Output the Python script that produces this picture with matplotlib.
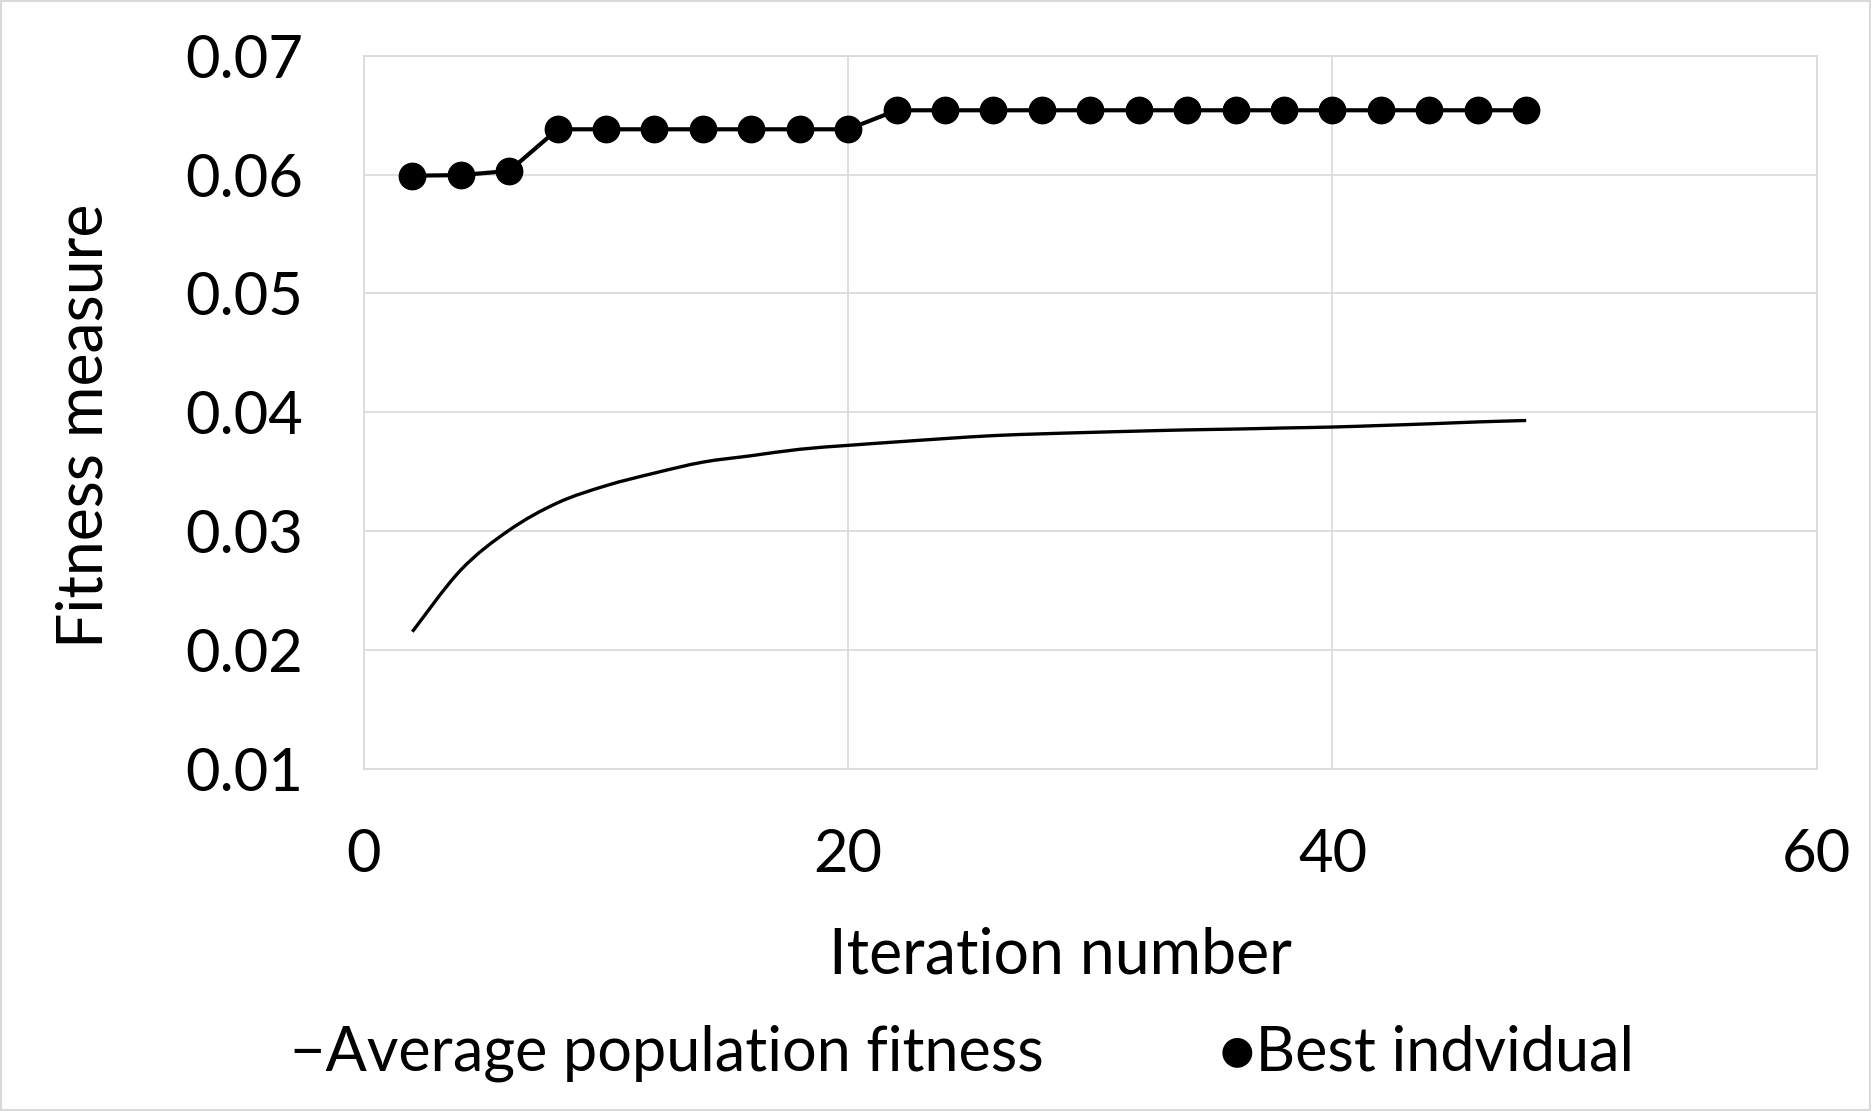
# Import Libraries
import numpy as np
import matplotlib.pyplot as plt
from matplotlib.patches import Rectangle, PathPatch
from matplotlib.path import Path

plt.rcParams['font.family'] = ['Lato', 'DejaVu Sans']

# Data
iterations = list(range(2, 50, 2))
avg_fitness = [0.02156, 0.02675, 0.03010, 0.03240, 0.03384, 0.03490, 0.03582, 0.03636,
               0.03690, 0.03723, 0.03752, 0.03780, 0.03805, 0.03820, 0.03832, 0.03843,
               0.03853, 0.03860, 0.03869, 0.03877, 0.03890, 0.03904, 0.03920, 0.03932]
best_fitness = [0.0599, 0.05995, 0.0603, 0.0638, 0.0638, 0.0638, 0.0638, 0.0638,
                0.0638, 0.0638, 0.0654, 0.0654, 0.0654, 0.0654, 0.0654, 0.0654,
                0.0654, 0.0654, 0.0654, 0.0654, 0.0654, 0.0654, 0.0654, 0.0654]
x_ticks = [0, 20, 40, 60]
y_ticks = [0.01, 0.02, 0.03, 0.04, 0.05, 0.06, 0.07]


# Smoothed line like Excel (Catmull-Rom -> cubic Bezier)
def smooth_path(xs, ys):
    pts = np.column_stack([xs, ys])
    verts = [pts[0]]
    codes = [Path.MOVETO]
    for i in range(len(pts) - 1):
        p0 = pts[i - 1] if i > 0 else pts[i]
        p1 = pts[i]
        p2 = pts[i + 1]
        p3 = pts[i + 2] if i + 2 < len(pts) else pts[i + 1]
        verts += [p1 + (p2 - p0) / 6, p2 - (p3 - p1) / 6, p2]
        codes += [Path.CURVE4] * 3
    return Path(verts, codes)


fig = plt.figure(figsize=(18.71, 11.11), dpi=100)
ax = fig.add_axes([0.1945, 0.3076, 0.971 - 0.1945, 0.950 - 0.3076])

ax.add_patch(PathPatch(smooth_path(iterations, avg_fitness), fill=False,
                       edgecolor='black', lw=2.4, capstyle='butt'))
ax.plot(iterations, best_fitness, color='black', lw=3, marker='o', markersize=19)

ax.set_xlim(0, 60)
ax.set_ylim(0.01, 0.07)
ax.set_xticks(x_ticks)
ax.set_yticks(y_ticks)
ax.set_xticklabels([str(t) for t in x_ticks])
ax.set_yticklabels([f"{t:.2f}" for t in y_ticks])
ax.tick_params(axis='both', length=0, labelsize=43)
ax.tick_params(axis='y', pad=44)
ax.tick_params(axis='x', pad=42)
ax.grid(True, color='#d9d9d9', lw=1.2)
ax.set_axisbelow(True)
for s in ax.spines.values():
    s.set_color('#d9d9d9')
    s.set_linewidth(1.2)

ax.set_xlabel("Iteration number", fontsize=45, labelpad=32)
ax.set_ylabel("Fitness measure", fontsize=45, labelpad=51)
ax.xaxis.label.set_x(0.4795)
ax.yaxis.label.set_y(0.4816)

# Legend as text entries
fig.text(290 / 1871, 1 - 1053 / 1111, "\u2212Average population fitness", fontsize=44,
         ha='left', va='center')
fig.text(1219 / 1871, 1 - 1053 / 1111, "\u25cfBest indvidual", fontsize=44,
         ha='left', va='center')

# Outer border
fig.patches.append(Rectangle((0.0005, 0.0008), 0.999, 0.9984, transform=fig.transFigure,
                             fill=False, edgecolor='#d9d9d9', lw=1.5))

plt.savefig("out.png", dpi=100)
plt.close()
